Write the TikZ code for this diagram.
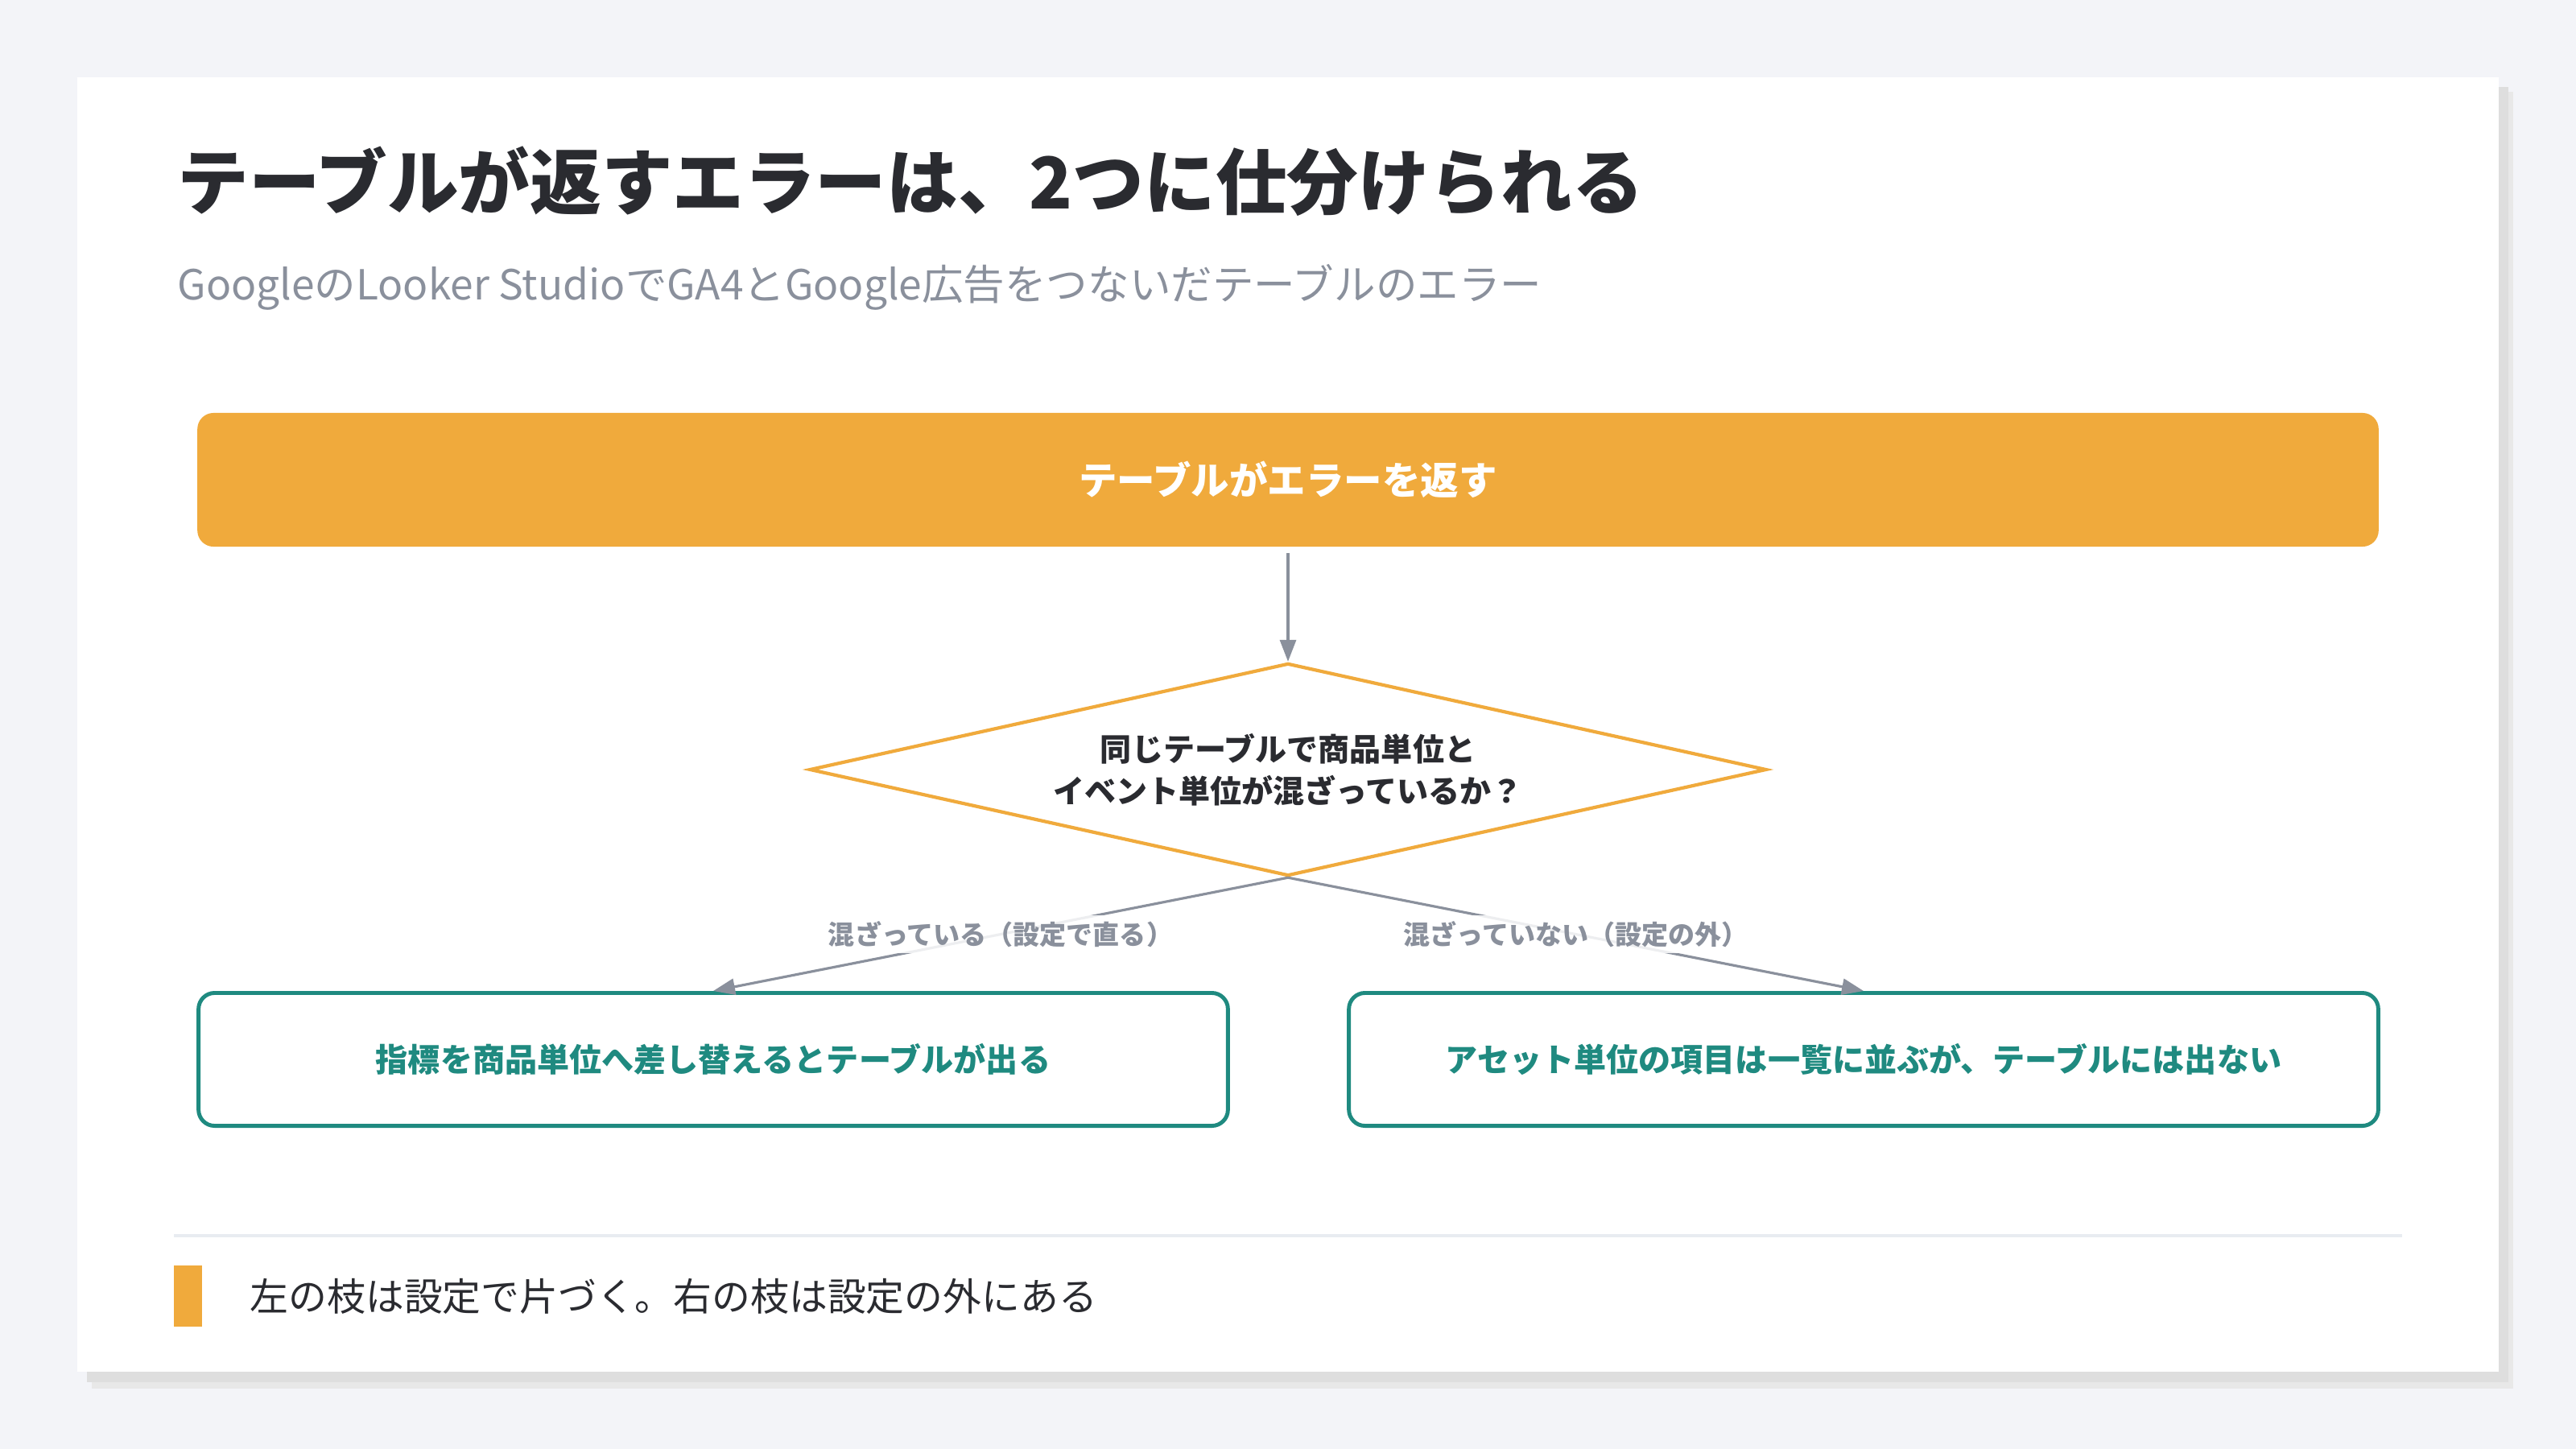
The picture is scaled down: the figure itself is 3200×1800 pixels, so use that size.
\documentclass[tikz,border=0pt]{standalone}
\usepackage{fontspec}
\setmainfont{Noto Sans CJK JP}
\usetikzlibrary{positioning,arrows.meta,shapes.geometric}

\definecolor{pagebg}{HTML}{F3F4F8}
\definecolor{accent}{HTML}{F0AA3C}
\definecolor{tealline}{HTML}{1F8A80}
\definecolor{ink}{HTML}{2A2B30}
\definecolor{mute}{HTML}{8A909C}
\definecolor{rulegray}{HTML}{E8ECF1}

\begin{document}
\begin{tikzpicture}[
  x=0.01cm, y=-0.01cm,
  >={Triangle[length=0.27cm,width=0.2cm]},
  flow/.style={->, draw=mute, line width=0.9pt},
  startbox/.style={rectangle, rounded corners=0.2cm, fill=accent, text=white,
    minimum width=27.08cm, minimum height=1.66cm,
    font=\fontsize{13.5}{16}\selectfont\bfseries},
  decide/.style={diamond, aspect=4.5, draw=accent, line width=1.2pt, fill=white,
    minimum width=11.88cm, minimum height=2.64cm, inner sep=0pt, align=center,
    text=ink, font=\fontsize{11.1}{14.8}\selectfont\bfseries},
  result/.style={rectangle, rounded corners=0.2cm, draw=tealline, line width=1.4pt,
    fill=white, minimum width=12.78cm, minimum height=1.65cm, text=tealline,
    font=\fontsize{11.4}{14}\selectfont\bfseries},
  branch/.style={midway, fill=white, fill opacity=0.85, text opacity=1, text=mute,
    inner sep=2pt, font=\fontsize{9.4}{11}\selectfont\bfseries}
]

% -----------------------
% Layout parameters (pixels)
% -----------------------
\def\xmid{1600}
\def\xleft{886}
\def\xright{2315}

\def\yhead{596}
\def\yq{956}
\def\yres{1316}

% -----------------------
% Page and card
% -----------------------
\useasboundingbox[fill=pagebg] (0,0) rectangle (3200,1800);
\fill[black!9] (114,114) rectangle (3122,1725);
\fill[black!13] (108,108) rectangle (3116,1717);
\fill[white] (96,96) rectangle (3104,1704);

% -----------------------
% Heading
% -----------------------
\node[anchor=west, inner sep=0pt, text=ink, font=\fontsize{25.2}{30}\selectfont\bfseries]
  (title) at (220,225) {テーブルが返すエラーは、2つに仕分けられる};
\node[anchor=west, inner sep=0pt, text=mute, font=\fontsize{14.65}{17}\selectfont]
  (subtitle) at (220,357) {GoogleのLooker StudioでGA4とGoogle広告をつないだテーブルのエラー};

% -----------------------
% Flow
% -----------------------
\node[startbox] (err) at (\xmid,\yhead) {テーブルがエラーを返す};
\node[decide] (mixed) at (\xmid,\yq) {同じテーブルで商品単位と\\イベント単位が混ざっているか？};

\node[result] (fixable) at (\xleft,\yres) {指標を商品単位へ差し替えるとテーブルが出る};
\node[result] (outside) at (\xright,\yres) {アセット単位の項目は一覧に並ぶが、テーブルには出ない};

\draw[flow, shorten <=2pt] (err) -- (mixed.north);
\draw[flow] (mixed.south) -- (fixable.north) node[branch] {混ざっている（設定で直る）};
\draw[flow] (mixed.south) -- (outside.north) node[branch] {混ざっていない（設定の外）};

% -----------------------
% Footer note
% -----------------------
\draw[rulegray, line width=1.1pt] (216,1535) -- (2984,1535);
\fill[accent] (216,1572) rectangle (251,1648);
\node[anchor=west, inner sep=0pt, text=ink, font=\fontsize{13.6}{16}\selectfont]
  (note) at (310,1610) {左の枝は設定で片づく。右の枝は設定の外にある};

\end{tikzpicture}
\end{document}
